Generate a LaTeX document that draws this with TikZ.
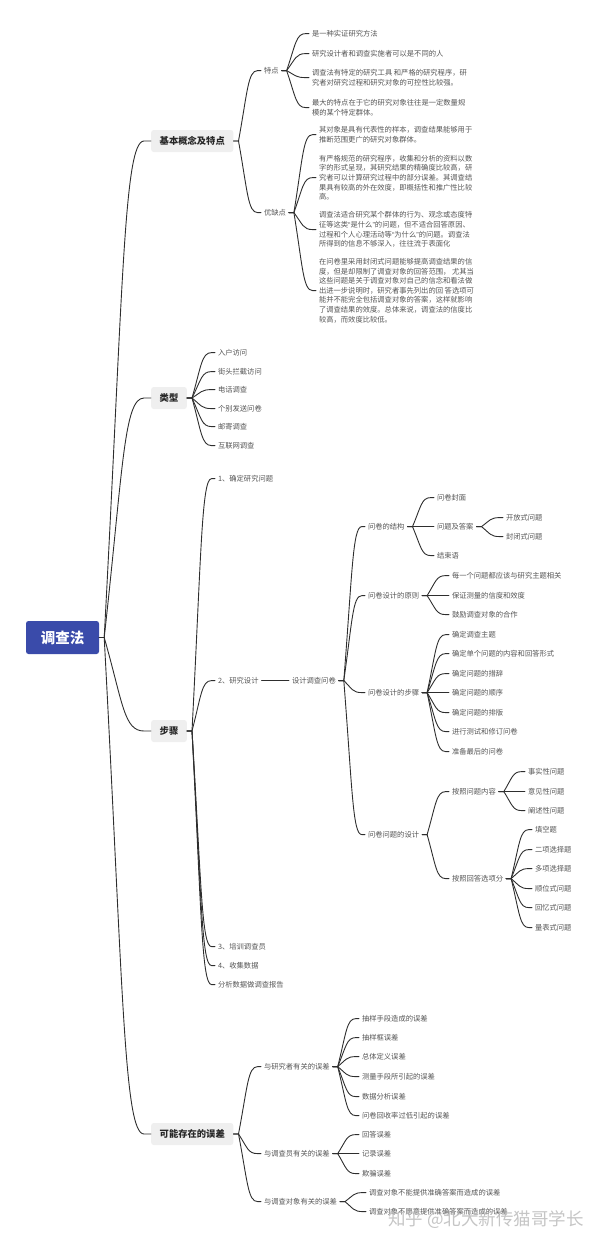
\documentclass[tikz,border=0pt]{standalone}
\usepackage{fontspec}
\setmainfont{Noto Sans CJK SC}
\newfontfamily\narrowq{Liberation Sans}
\usetikzlibrary{calc}
\definecolor{rootblue}{HTML}{3A4BAA}
\definecolor{boxgrey}{HTML}{EFEFEF}
\definecolor{leaftext}{HTML}{555555}
\definecolor{linedark}{HTML}{2E2E2E}
\tikzset{
  rootnode/.style={fill=rootblue,rounded corners=2.5pt,text=white,font=\fontsize{14.5}{17}\selectfont\bfseries,minimum width=73pt,minimum height=33pt,inner sep=0pt,anchor=center},
  topicbox/.style={fill=boxgrey,rounded corners=2.5pt,text=black!85,font=\fontsize{9.3}{11}\selectfont\bfseries,minimum height=22pt,inner xsep=8.5pt,inner ysep=0pt,anchor=west},
  leaf/.style={text=leaftext,font=\fontsize{7.3}{9.6}\selectfont,align=left,inner sep=0pt,outer xsep=3pt,outer ysep=0pt,anchor=west,xshift=-3pt,yshift=-0.6pt},
  conn/.style={draw=linedark,line width=0.9pt,line cap=round},
  mark text/.style={text=gray!60,opacity=0.75,font=\fontsize{17.5}{20}\selectfont,inner sep=0pt,anchor=west}
}
\newcommand{\conn}[2]{%
  \draw[conn] let \p1=(#1.east), \p2=(#2.west), \n1={\x1+5pt}, \n2={\x2-\n1}, \n3={\y2-\y1} in
    (\p1) -- (\n1,\y1) .. controls (\n1+0.4*\n2,\y1+0.7*\n3) and (\n1+0.42*\n2,\y2) .. (\n1+0.85*\n2,\y2) -- (\p2);}
\newcommand{\conns}[2]{\foreach \c in {#2}{\conn{#1}{\c}}}
\newcommand{\qo}{{\narrowq “}}
\newcommand{\qc}{{\narrowq ”}}
\begin{document}
\begin{tikzpicture}[x=1pt,y=-1pt]
\useasboundingbox (0,0) rectangle (600,1245);
\node[rootnode] (root) at (62.5,637.5) {调查法};
\node[topicbox] (t1) at (151,141) {基本概念及特点};
\node[topicbox] (t2) at (151,398) {类型};
\node[topicbox] (t3) at (151,731) {步骤};
\node[topicbox] (t4) at (151,1134) {可能存在的误差};
\conns{root}{t1,t2,t3,t4}
% basics
\node[leaf] (a1) at (264,70) {特点};
\node[leaf] (a2) at (264,212) {优缺点};
\conns{t1}{a1,a2}
\node[leaf] (a11) at (312,33) {是一种实证研究方法};
\node[leaf] (a12) at (312,53) {研究设计者和调查实施者可以是不同的人};
\node[leaf] (a13) at (312,77) {调查法有特定的研究工具 和严格的研究程序，研\\究者对研究过程和研究对象的可控性比较强。};
\node[leaf] (a14) at (312,107) {最大的特点在于它的研究对象往往是一定数量规\\模的某个特定群体。};
\conns{a1}{a11,a12,a13,a14}
\node[leaf] (a21) at (319,134) {其对象是具有代表性的样本，调查结果能够用于\\推断范围更广的研究对象群体。};
\node[leaf] (a22) at (319,177) {有严格规范的研究程序，收集和分析的资料以数\\字的形式呈现，其研究结果的精确度比较高，研\\究者可以计算研究过程中的部分误差。其调查结\\果具有较高的外在效度，即概括性和推广性比较\\高。};
\node[leaf] (a23) at (319,229) {调查法适合研究某个群体的行为、观念或态度特\\征等这类\qo 是什么\qc 的问题，但不适合回答原因、\\过程和个人心理活动等\qo 为什么\qc 的问题。调查法\\所得到的信息不够深入，往往流于表面化};
\node[leaf] (a24) at (319,290) {在问卷里采用封闭式问题能够提高调查结果的信\\度，但是却限制了调查对象的回答范围， 尤其当\\这些问题是关于调查对象对自己的信念和看法做\\出进一步说明时，研究者事先列出的回 答选项可\\能并不能完全包括调查对象的答案，这样就影响\\了调查结果的效度。总体来说，调查法的信度比\\较高，而效度比较低。};
\conns{a2}{a21,a22,a23,a24}
% types
\node[leaf] (b1) at (218,352) {入户访问};
\node[leaf] (b2) at (218,371) {街头拦截访问};
\node[leaf] (b3) at (218,389) {电话调查};
\node[leaf] (b4) at (218,408) {个别发送问卷};
\node[leaf] (b5) at (218,426) {邮寄调查};
\node[leaf] (b6) at (218,445) {互联网调查};
\conns{t2}{b1,b2,b3,b4,b5,b6}
% steps
\node[leaf] (c1) at (218,478) {1、确定研究问题};
\node[leaf] (c2) at (218,680) {2、研究设计};
\node[leaf] (c3) at (218,946) {3、培训调查员};
\node[leaf] (c4) at (218,965) {4、收集数据};
\node[leaf] (c5) at (218,984) {分析数据做调查报告};
\conns{t3}{c1,c2,c3,c4,c5}
\node[leaf] (d) at (292,680) {设计调查问卷};
\conn{c2}{d}
\node[leaf] (e1) at (368,526) {问卷的结构};
\node[leaf] (e2) at (368,595) {问卷设计的原则};
\node[leaf] (e3) at (368,692) {问卷设计的步骤};
\node[leaf] (e4) at (368,834) {问卷问题的设计};
\conns{d}{e1,e2,e3,e4}
\node[leaf] (f1) at (437,497) {问卷封面};
\node[leaf] (f2) at (437,526) {问题及答案};
\node[leaf] (f3) at (437,555) {结束语};
\conns{e1}{f1,f2,f3}
\node[leaf] (g1) at (506,517) {开放式问题};
\node[leaf] (g2) at (506,536) {封闭式问题};
\conns{f2}{g1,g2}
\node[leaf] (h1) at (452,575) {每一个问题都应该与研究主题相关};
\node[leaf] (h2) at (452,595) {保证测量的信度和效度};
\node[leaf] (h3) at (452,614) {鼓励调查对象的合作};
\conns{e2}{h1,h2,h3}
\node[leaf] (i1) at (452,634) {确定调查主题};
\node[leaf] (i2) at (452,653) {确定单个问题的内容和回答形式};
\node[leaf] (i3) at (452,673) {确定问题的措辞};
\node[leaf] (i4) at (452,692) {确定问题的顺序};
\node[leaf] (i5) at (452,712) {确定问题的排版};
\node[leaf] (i6) at (452,731) {进行测试和修订问卷};
\node[leaf] (i7) at (452,751) {准备最后的问卷};
\conns{e3}{i1,i2,i3,i4,i5,i6,i7}
\node[leaf] (j1) at (452,791) {按照问题内容};
\node[leaf] (j2) at (452,878) {按照回答选项分};
\conns{e4}{j1,j2}
\node[leaf] (k1) at (528,771) {事实性问题};
\node[leaf] (k2) at (528,791) {意见性问题};
\node[leaf] (k3) at (528,810) {阐述性问题};
\conns{j1}{k1,k2,k3}
\node[leaf] (l1) at (535,829) {填空题};
\node[leaf] (l2) at (535,849) {二项选择题};
\node[leaf] (l3) at (535,868) {多项选择题};
\node[leaf] (l4) at (535,888) {顺位式问题};
\node[leaf] (l5) at (535,907) {回忆式问题};
\node[leaf] (l6) at (535,927) {量表式问题};
\conns{j2}{l1,l2,l3,l4,l5,l6}
% errors
\node[leaf] (m1) at (264,1066) {与研究者有关的误差};
\node[leaf] (m2) at (264,1153) {与调查员有关的误差};
\node[leaf] (m3) at (264,1201) {与调查对象有关的误差};
\conns{t4}{m1,m2,m3}
\node[leaf] (n1) at (362,1018) {抽样手段造成的误差};
\node[leaf] (n2) at (362,1037) {抽样框误差};
\node[leaf] (n3) at (362,1056) {总体定义误差};
\node[leaf] (n4) at (362,1076) {测量手段所引起的误差};
\node[leaf] (n5) at (362,1096) {数据分析误差};
\node[leaf] (n6) at (362,1115) {问卷回收率过低引起的误差};
\conns{m1}{n1,n2,n3,n4,n5,n6}
\node[leaf] (o1) at (362,1134) {回答误差};
\node[leaf] (o2) at (362,1153) {记录误差};
\node[leaf] (o3) at (362,1173) {欺骗误差};
\conns{m2}{o1,o2,o3}
\node[leaf] (p1) at (369,1192) {调查对象不能提供准确答案而造成的误差};
\node[leaf] (p2) at (369,1211) {调查对象不愿意提供准确答案而造成的误差};
\conns{m3}{p1,p2}
\node[mark text] (wm) at (388,1220) {知乎 @北大新传猫哥学长};
\end{tikzpicture}
\end{document}
